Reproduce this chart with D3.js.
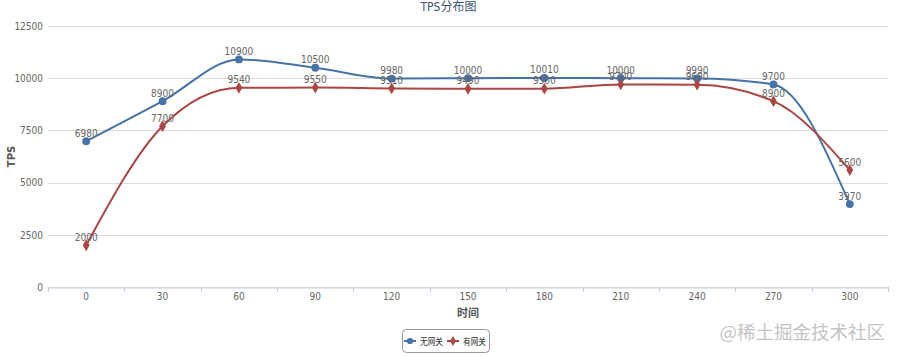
<!DOCTYPE html>
<html><head><meta charset="utf-8">
<script src="https://cdn.jsdelivr.net/npm/d3@7"></script>
<style>
html,body{margin:0;padding:0;background:#fff;}
svg{display:block;}
.nar{font-family:"Liberation Sans Narrow","DejaVu Sans Condensed","Noto Sans CJK SC",sans-serif;font-stretch:condensed;}
</style></head>
<body>
<svg id="c" width="897" height="356"></svg>
<script>
const categories = ["0","30","60","90","120","150","180","210","240","270","300"];
const seriesNames = ["无网关","有网关"];
const noGateway = [6980, 8900, 10900, 10500, 9980, 10000, 10010, 10000, 9990, 9700, 3970];
const withGateway = [2000, 7700, 9540, 9550, 9510, 9490, 9500, 9700, 9690, 8900, 5600];
const yTicks = [0, 2500, 5000, 7500, 10000, 12500];
const colors = ["#4572A7", "#AA4643"];

const svg = d3.select("#c");
const W = 897, H = 356;
const m = {left: 48, right: 9, top: 26, bottom: 69};
const pw = W - m.left - m.right, ph = H - m.top - m.bottom;

const x = d3.scaleBand().domain(categories).range([m.left, m.left + pw]).padding(0);
const y = d3.scaleLinear().domain([0, 12500]).range([m.top + ph, m.top]);
const cx = d => x(d) + x.bandwidth() / 2;

// gridlines
svg.append("g").selectAll("line").data(yTicks).join("line")
  .attr("x1", m.left).attr("x2", m.left + pw)
  .attr("y1", d => Math.round(y(d)) + 0.5).attr("y2", d => Math.round(y(d)) + 0.5)
  .attr("stroke", "#dcdcdc").attr("stroke-width", 1);

// y axis labels
const yAxis = d3.axisLeft(y).tickValues(yTicks).tickFormat(d3.format("d")).tickSize(0).tickPadding(5);
const gy = svg.append("g").attr("transform", `translate(${m.left},0)`).call(yAxis);
gy.select(".domain").remove();
gy.selectAll("text").attr("class", "nar").attr("font-size", 10).attr("fill", "#666");

// x axis
const xAxis = d3.axisBottom(x).tickSize(0).tickPadding(5);
const gx = svg.append("g").attr("transform", `translate(0,${m.top + ph + 0.5})`).call(xAxis);
gx.select(".domain").attr("stroke", "#C0D0E0");
gx.selectAll("text").attr("class", "nar").attr("font-size", 10).attr("fill", "#666");
// boundary ticks
const bounds = categories.map(c => x(c)).concat([m.left + pw]);
svg.append("g").selectAll("line").data(bounds).join("line")
  .attr("x1", d => Math.round(d) + 0.5).attr("x2", d => Math.round(d) + 0.5)
  .attr("y1", m.top + ph).attr("y2", m.top + ph + 5)
  .attr("stroke", "#C0D0E0");

// title
svg.append("text").attr("x", W / 2).attr("y", 11).attr("text-anchor", "middle")
  .attr("class", "nar").attr("font-size", 12).attr("fill", "#3E576F").text("TPS分布图");

// axis titles
svg.append("text").attr("transform", `translate(15,${m.top + ph / 2}) rotate(-90)`)
  .attr("text-anchor", "middle").attr("font-family", "DejaVu Sans, sans-serif")
  .attr("font-weight", "bold").attr("font-size", 10).attr("fill", "#555").text("TPS");
svg.append("text").attr("x", m.left + pw / 2).attr("y", 317).attr("text-anchor", "middle")
  .attr("font-family", "Noto Sans CJK SC, sans-serif").attr("font-weight", "bold")
  .attr("font-size", 11).attr("fill", "#555").text("时间");

// series
const series = [noGateway, withGateway];
const line = d3.line().x((d, i) => cx(categories[i])).y(d => y(d)).curve(d3.curveMonotoneX);
series.forEach((vals, si) => {
  svg.append("path").datum(vals).attr("d", line).attr("fill", "none")
    .attr("stroke", colors[si]).attr("stroke-width", 2);
});
const sym = [d3.symbolCircle, d3.symbolDiamond];
series.forEach((vals, si) => {
  svg.append("g").selectAll("path").data(vals).join("path")
    .attr("transform", (d, i) => `translate(${cx(categories[i])},${y(d)})`)
    .attr("d", d3.symbol().type(sym[si]).size(si === 0 ? 48 : 40))
    .attr("fill", colors[si]);
});
series.forEach((vals, si) => {
  svg.append("g").selectAll("text").data(vals).join("text")
    .attr("x", (d, i) => cx(categories[i])).attr("y", d => y(d) - 4.5)
    .attr("text-anchor", "middle").attr("class", "nar").attr("font-size", 10)
    .attr("fill", "#666").text(d => d);
});

// legend
const lg = svg.append("g");
lg.append("rect").attr("x", 402.5).attr("y", 329.5).attr("width", 87).attr("height", 23)
  .attr("rx", 4).attr("fill", "#fff").attr("stroke", "#999");
const lx = [404, 447];
seriesNames.forEach((n, si) => {
  lg.append("line").attr("x1", lx[si]).attr("x2", lx[si] + 12).attr("y1", 341).attr("y2", 341)
    .attr("stroke", colors[si]).attr("stroke-width", 2);
  lg.append("path").attr("transform", `translate(${lx[si] + 6},341)`)
    .attr("d", d3.symbol().type(sym[si]).size(30)).attr("fill", colors[si]);
  lg.append("text").attr("x", lx[si] + 16).attr("y", 344.5).attr("font-family", "Noto Sans CJK SC, sans-serif")
    .attr("font-size", 9).attr("textLength", 23).attr("lengthAdjust", "spacingAndGlyphs")
    .attr("fill", "#333").text(n);
});

// watermark
svg.append("text").attr("x", 885).attr("y", 339).attr("text-anchor", "end")
  .attr("font-family", "Noto Sans CJK SC, sans-serif").attr("font-size", 18.5)
  .attr("fill", "#c4c4c4").text("@稀土掘金技术社区");
</script>
</body></html>
